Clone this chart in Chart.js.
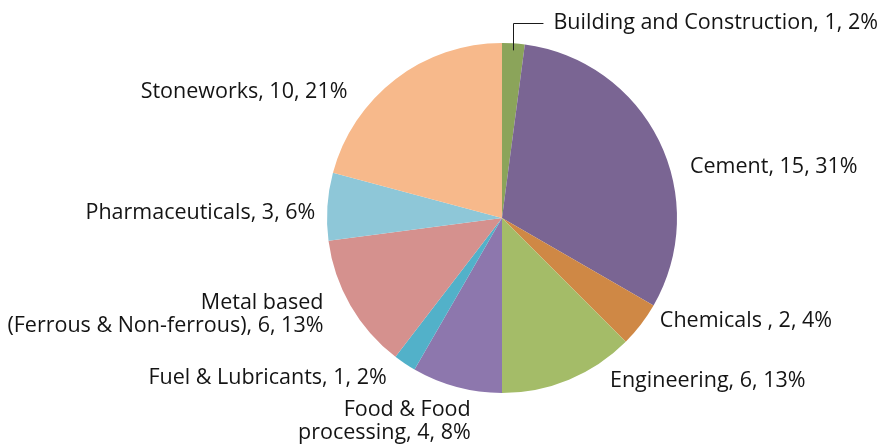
<!DOCTYPE html>
<html>
<head>
<meta charset="utf-8">
<script src="https://cdn.jsdelivr.net/npm/chart.js@4/dist/chart.umd.min.js"></script>
<style>
html,body{margin:0;padding:0;background:#fff;}
#wrap{width:881px;height:445px;position:relative;}
</style>
</head>
<body>
<div id="wrap"><canvas id="c" width="881" height="445"></canvas></div>
<script>
const categories = ["Building and Construction", "Cement", "Chemicals ", "Engineering", "Food & Food processing", "Fuel & Lubricants", "Metal based (Ferrous & Non-ferrous)", "Pharmaceuticals", "Stoneworks"];
const counts = [1, 15, 2, 6, 4, 1, 6, 3, 10];
const percentLabels = ["2%", "31%", "4%", "13%", "8%", "2%", "13%", "6%", "21%"];
const colors = ["#8ba45a", "#7a6593", "#cf8845", "#a4bc68", "#8d77ad", "#52b1c9", "#d5918e", "#8ec7d8", "#f7b98b"];

// label layout: text lines, offset from the slice's outer mid-point, alignment
const labelLayout = [
  {lines:["Building and Construction, 1, 2%"], dx:40, dy:-20, align:"left", leader:true},
  {lines:["Cement, 15, 31%"], dx:31, dy:26, align:"left"},
  {lines:["Chemicals , 2, 4%"], dx:19, dy:-4, align:"left"},
  {lines:["Engineering, 6, 13%"], dx:41, dy:1, align:"left"},
  {lines:["Food & Food","processing, 4, 8%"], dx:14, dy:34.5, align:"right"},
  {lines:["Fuel & Lubricants, 1, 2%"], dx:-18, dy:14, align:"right"},
  {lines:["Metal based","(Ferrous & Non-ferrous), 6, 13%"], dx:-27, dy:9, align:"right"},
  {lines:["Pharmaceuticals, 3, 6%"], dx:-12, dy:6, align:"right"},
  {lines:["Stoneworks, 10, 21%"], dx:-48, dy:13, align:"right"}
];
const FONT = '21.5px "Open Sans", "Noto Sans", sans-serif';
const LINE_H = 23.5;

const labelPlugin = {
  id: 'sliceLabels',
  afterDatasetsDraw(chart) {
    const ctx = chart.ctx;
    const meta = chart.getDatasetMeta(0);
    ctx.save();
    ctx.font = FONT;
    ctx.fillStyle = '#141414';
    ctx.textBaseline = 'middle';
    meta.data.forEach((arc, i) => {
      const p = arc.getProps(['x','y','startAngle','endAngle','outerRadius'], true);
      const mid = (p.startAngle + p.endAngle) / 2;
      const ex = p.x + Math.cos(mid) * p.outerRadius;
      const ey = p.y + Math.sin(mid) * p.outerRadius;
      const L = labelLayout[i];
      const tx = ex + L.dx, ty = ey + L.dy;
      if (L.leader) {
        ctx.strokeStyle = '#1a1a1a';
        ctx.lineWidth = 1;
        ctx.beginPath();
        ctx.moveTo(Math.round(ex) + 0.5, ey + 7);
        ctx.lineTo(Math.round(ex) + 0.5, Math.round(ty) + 0.5);
        ctx.lineTo(tx - 10, Math.round(ty) + 0.5);
        ctx.stroke();
      }
      ctx.textAlign = L.align;
      const n = L.lines.length;
      L.lines.forEach((t, k) => {
        ctx.fillText(t, tx, ty + (k - (n - 1) / 2) * LINE_H);
      });
    });
    ctx.restore();
  }
};

new Chart(document.getElementById('c'), {
  type: 'pie',
  data: {
    labels: categories,
    datasets: [{
      data: counts,
      backgroundColor: colors,
      borderWidth: 0
    }]
  },
  options: {
    responsive: false,
    animation: false,
    layout: { padding: { top: 43, bottom: 52, left: 327, right: 204 } },
    plugins: { legend: { display: false }, tooltip: { enabled: false } }
  },
  plugins: [labelPlugin]
});
</script>
</body>
</html>
